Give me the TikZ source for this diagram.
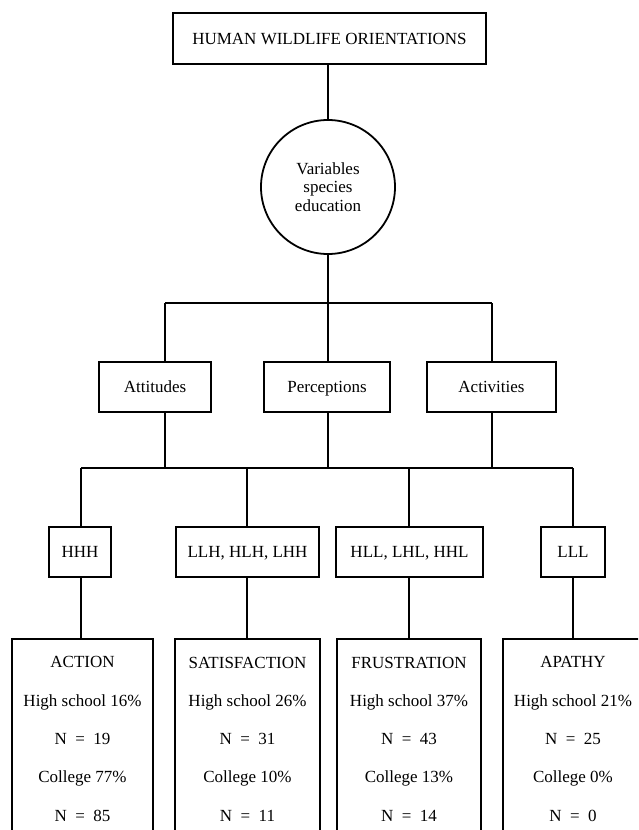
\documentclass[tikz,border=0pt]{standalone}
\usepackage{fontspec}
\setmainfont{Liberation Serif}
\begin{document}
\begin{tikzpicture}[x=1pt,y=-1pt,line width=1.8pt,
  txt/.style={font=\fontsize{17}{20}\selectfont},
  box/.style={draw,rectangle,inner sep=0pt,line width=1.8pt,txt,minimum height=50pt,text height=13pt,text depth=1.8pt},
  bigbox/.style={draw,rectangle,inner sep=0pt,line width=1.8pt,anchor=north,minimum height=230pt},
  rows/.style={align=center,inner sep=0pt,font=\fontsize{17}{38.3}\selectfont},
  conn/.style={line width=1.8pt}]
\useasboundingbox (0,0) rectangle (638,830);
\clip (0,0) rectangle (638,830);
% top
\node[box,minimum width=313pt,minimum height=51pt] (top) at (329.5,38.5) {HUMAN WILDLIFE ORIENTATIONS};
\node[draw,circle,line width=1.8pt,minimum size=134pt,inner sep=0pt,align=center,font=\fontsize{17}{18.5}\selectfont] (circ) at (328,187) {Variables\\species\\education};
% level 1
\node[box,minimum width=112pt] (att) at (155,387) {Attitudes};
\node[box,minimum width=126pt] (per) at (327,387) {Perceptions};
\node[box,minimum width=129pt] (act) at (491.5,387) {Activities};
% level 2
\node[box,minimum width=62pt] (hhh) at (80,552) {HHH};
\node[box,minimum width=143pt] (llh) at (247.5,552) {LLH, HLH, LHH};
\node[box,minimum width=147pt] (hll) at (409.5,552) {HLL, LHL, HHL};
\node[box,minimum width=64pt] (lll) at (573,552) {LLL};
% bottom boxes
\node[bigbox,minimum width=141pt] (bA) at (82.5,638) {};
\node[bigbox,minimum width=145pt] (bS) at (247.5,638) {};
\node[bigbox,minimum width=144pt] (bF) at (409,638) {};
\node[bigbox,minimum width=140pt] (bP) at (573,638) {};
\node[rows] (tA) at (82.5,739) {ACTION\\High school 16\%\\N\enspace=\enspace19\\College 77\%\\N\enspace=\enspace85};
\node[rows] (tS) at (247.5,739) {SATISFACTION\\High school 26\%\\N\enspace=\enspace31\\College 10\%\\N\enspace=\enspace11};
\node[rows] (tF) at (409,739) {FRUSTRATION\\High school 37\%\\N\enspace=\enspace43\\College 13\%\\N\enspace=\enspace14};
\node[rows] (tP) at (573,739) {APATHY\\High school 21\%\\N\enspace=\enspace25\\College 0\%\\N\enspace=\enspace0};
% bus coordinates
\coordinate (b1) at (328,303);
\coordinate (b1L) at (165,303);
\coordinate (b1R) at (492,303);
\coordinate (c1) at (165,468);
\coordinate (c2) at (328,468);
\coordinate (c3) at (492,468);
\coordinate (d1) at (81,468);
\coordinate (d2) at (247,468);
\coordinate (d3) at (409,468);
\coordinate (d4) at (573,468);
% connectors
\draw[conn] (top.south -| circ.north) -- (circ.north);
\draw[conn] (circ.south) -- (b1);
\draw[conn] (b1L) -- (b1R);
\draw[conn] (b1L) -- (b1L |- att.north);
\draw[conn] (b1) -- (b1 |- per.north);
\draw[conn] (b1R) -- (b1R |- act.north);
\draw[conn] (c1 |- att.south) -- (c1);
\draw[conn] (c2 |- per.south) -- (c2);
\draw[conn] (c3 |- act.south) -- (c3);
\draw[conn] (d1) -- (d4);
\draw[conn] (d1) -- (d1 |- hhh.north);
\draw[conn] (d2) -- (d2 |- llh.north);
\draw[conn] (d3) -- (d3 |- hll.north);
\draw[conn] (d4) -- (d4 |- lll.north);
\draw[conn] (d1 |- hhh.south) -- (d1 |- bA.north);
\draw[conn] (d2 |- llh.south) -- (d2 |- bS.north);
\draw[conn] (d3 |- hll.south) -- (d3 |- bF.north);
\draw[conn] (d4 |- lll.south) -- (d4 |- bP.north);
\end{tikzpicture}
\end{document}
